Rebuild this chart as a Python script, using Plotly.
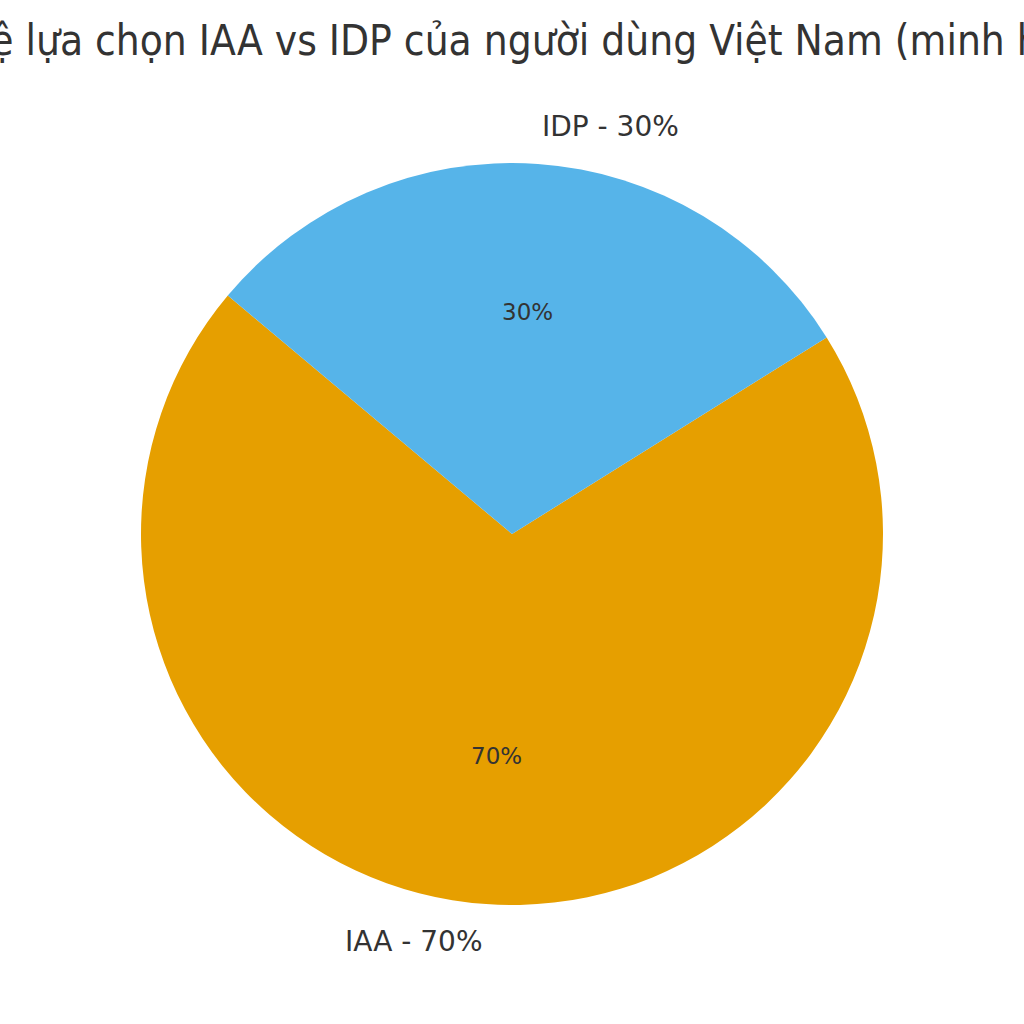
import math
import plotly.graph_objects as go

# Data
categories = ["IAA", "IDP"]
shares = [70, 30]
colors = ["#E69F00", "#56B4E9"]
title_text = "Tỷ lệ lựa chọn IAA vs IDP của người dùng Việt Nam (minh họa)"

W = H = 1024
start_angle = 140.0  # degrees, counterclockwise from 3 o'clock
cx, cy, r = 512, 534, 371  # pie centre and radius in pixels

total = sum(shares)
first_span = 360.0 * shares[0] / total
# plotly: first slice occupies clockwise angles [rotation, rotation + span] from 12 o'clock
rotation = (90 - start_angle - first_span) % 360

fig = go.Figure(
    go.Pie(
        labels=categories,
        values=shares,
        marker=dict(colors=colors, line=dict(width=0)),
        sort=False,
        direction="counterclockwise",
        rotation=rotation,
        textinfo="none",
        hoverinfo="skip",
        showlegend=False,
        domain=dict(x=[(cx - r) / W, (cx + r) / W],
                    y=[1 - (cy + r) / H, 1 - (cy - r) / H]),
    )
)

annotations = []
acc = start_angle
for cat, v in zip(categories, shares):
    span = 360.0 * v / total
    mid = math.radians(acc + span / 2)
    acc += span
    pct = f"{round(100 * v / total)}%"
    # outer label at 1.1 r
    lx = cx + 1.1 * r * math.cos(mid)
    ly = cy - 1.1 * r * math.sin(mid)
    annotations.append(dict(
        x=lx / W, y=1 - ly / H, xref="paper", yref="paper",
        text=f"{cat} - {pct}", showarrow=False,
        xanchor="left" if math.cos(mid) > 0 else "right", yanchor="middle",
        font=dict(family="DejaVu Sans", size=28, color="#333333"),
    ))
    # percentage at 0.6 r
    px = cx + 0.6 * r * math.cos(mid)
    py = cy - 0.6 * r * math.sin(mid)
    annotations.append(dict(
        x=px / W, y=1 - py / H, xref="paper", yref="paper",
        text=pct, showarrow=False, xanchor="center", yanchor="middle",
        font=dict(family="DejaVu Sans", size=23, color="#333333"),
    ))

fig.update_layout(
    width=W, height=H,
    margin=dict(l=0, r=0, t=0, b=0),
    paper_bgcolor="white",
    plot_bgcolor="white",
    title=dict(text=title_text, x=0.5, xanchor="center", xref="paper",
               y=1 - 40 / H, yref="container", yanchor="middle",
               font=dict(family="DejaVu Sans Condensed, DejaVu Sans", size=42, color="#333333")),
    annotations=annotations,
)

fig.write_html(
    "out.html",
    config={"displayModeBar": False},
    post_script="document.body.style.margin='0';document.body.style.overflow='hidden';",
)
